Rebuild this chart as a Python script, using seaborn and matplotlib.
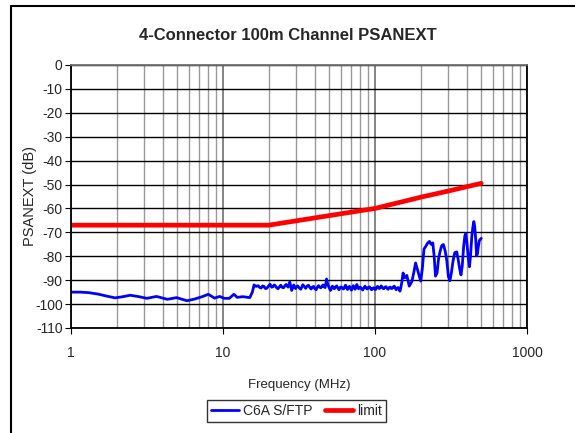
import matplotlib
matplotlib.use("Agg")
import matplotlib.pyplot as plt
import matplotlib.ticker as mticker
import pandas as pd
import seaborn as sns

# limit line
limit_freq = [1, 20, 50, 100, 200, 300, 500]
limit_db = [-67.0, -67.0, -63.0, -60.0, -55.3, -52.8, -49.5]

# measured C6A S/FTP channel PSANEXT
meas_freq = [
    1.0, 1.15, 1.3, 1.5, 1.7, 1.95, 2.2, 2.45, 2.8, 3.15, 3.65, 4.3, 4.95, 5.8,
    6.5, 7.3, 8.0, 8.8, 9.5, 10.2, 11.0, 11.8, 12.4, 13.5, 15.0, 15.6,
    16.0, 16.5, 17.0, 17.4, 17.8, 18.2, 18.6, 19.0, 19.4, 19.9, 20.4, 20.9,
    21.3, 21.7, 22.0, 22.5, 23.0, 23.5, 24.0, 24.5, 25.0, 25.5, 26.0, 26.8,
    27.5, 27.9, 28.3, 28.8, 29.2, 29.6, 30.0, 30.5, 31.0, 31.7, 32.5, 33.0,
    33.5, 34.2, 35.0, 35.7, 36.5, 37.2, 38.0, 38.7, 39.5, 40.2, 41.0, 41.7,
    42.5, 43.2, 44.0, 44.7, 45.5, 46.2, 47.0, 47.5, 48.0, 48.7, 49.5, 50.2,
    51.0, 51.7, 52.5, 53.2, 54.0, 55.0, 56.0, 57.0, 58.0, 59.0, 60.0, 61.0,
    62.0, 63.0, 64.0, 65.0, 66.0, 67.0, 68.0, 69.0, 70.0, 71.0, 72.0, 73.0,
    74.0, 75.0, 76.0, 77.0, 78.0, 79.0, 80.0, 81.5, 83.0, 84.5, 86.0, 87.5,
    89.0, 90.5, 92.0, 93.5, 95.0, 96.5, 98.0, 99.5, 101, 102.5, 104, 105.5,
    107, 108.5, 110, 112, 114, 116, 118, 120, 122, 124, 126, 128, 130, 132,
    134, 136, 138, 140, 142, 144, 146, 148, 150,
    153, 157, 162, 168, 175, 181, 185, 190, 196, 200, 205, 210,
    216, 222, 228, 234, 240, 245, 250, 256, 262, 268, 275, 282, 290, 297, 304,
    311, 318, 326, 335, 345, 352, 360, 368, 375, 383, 390, 396, 402, 410, 418,
    425, 433, 440, 447, 453, 460, 466, 472, 478, 486, 495, 500,
]
meas_db = [
    -95.0, -95.0, -95.2, -95.8, -96.6, -97.4, -96.9, -96.3, -96.9, -97.6, -96.8,
    -98.0, -97.3, -98.6, -97.9, -96.9, -95.9, -97.5, -96.8, -97.6, -97.6, -95.9,
    -97.2, -96.9, -97.3, -95.0,
    -92.0, -92.6, -92.3, -93.0, -93.3, -92.4, -92.6, -93.5, -93.4, -92.5,
    -91.7, -92.9, -92.8, -92.0, -92.2, -93.1, -93.6, -92.8, -92.1, -93.0,
    -93.2, -92.4, -91.8, -92.9, -90.7, -92.5, -94.3, -93.0, -92.0, -92.9,
    -93.5, -92.7, -92.4, -93.2, -93.8, -92.8, -91.9, -92.6, -93.4, -92.5,
    -92.1, -93.0, -93.7, -92.9, -92.6, -93.5, -94.0, -93.0, -92.3, -92.9,
    -93.2, -92.6, -92.0, -92.8, -93.1, -91.5, -89.5, -91.3, -92.6, -93.5,
    -94.3, -93.2, -92.5, -93.3, -93.6, -92.8, -92.4, -93.3, -94.0, -93.0,
    -92.8, -93.4, -93.7, -92.9, -92.1, -93.2, -93.9, -93.0, -92.6, -93.5,
    -94.2, -93.1, -92.3, -93.2, -93.8, -92.6, -91.8, -92.9, -93.6, -93.0,
    -92.9, -93.6, -94.1, -93.2, -92.5, -93.3, -93.7, -93.0, -92.8, -93.5,
    -94.0, -93.4, -93.2, -93.8, -93.9, -93.0, -92.6, -93.3, -93.5, -92.9,
    -92.4, -93.2, -93.6, -93.0, -92.7, -93.4, -93.8, -93.1, -92.9, -93.5,
    -93.4, -92.8, -92.5, -93.4, -94.0, -93.3, -93.1, -93.9, -94.6, -93.0,
    -91.0,
    -87.0, -89.0, -88.0, -92.5, -90.5, -86.0, -82.8,
    -85.5, -88.5, -90.4, -85.0, -77.0, -75.8, -74.5, -73.8, -75.0, -74.4, -80.0,
    -88.3, -87.0, -81.0, -78.0, -75.5, -75.1, -78.0, -82.0, -88.5, -90.2, -87.0,
    -82.0, -78.5, -78.2, -81.0, -85.0, -87.8, -84.0, -76.0, -71.5, -70.5, -74.0,
    -80.0, -84.4, -80.0, -72.0, -68.0, -65.5, -67.5, -73.0, -79.8, -79.0, -76.0,
    -73.5, -72.8, -72.5,
]

y_ticks = list(range(0, -111, -10))
x_ticks = [1, 10, 100, 1000]

df = pd.concat([
    pd.DataFrame({"freq": meas_freq, "db": meas_db, "series": "C6A S/FTP"}),
    pd.DataFrame({"freq": limit_freq, "db": limit_db, "series": "limit"}),
])

sns.set_theme(style="white")
plt.rcParams["font.family"] = ["Liberation Sans", "DejaVu Sans"]
plt.rcParams["axes.unicode_minus"] = False

fig = plt.figure(figsize=(5.75, 4.33), dpi=100)
ax = fig.add_axes([0.1235, 0.2425, 0.793, 0.6075])

sns.lineplot(data=df, x="freq", y="db", hue="series", size="series",
             palette={"C6A S/FTP": "#0000ff", "limit": "#ff0000"},
             sizes={"C6A S/FTP": 2.0, "limit": 3.4},
             estimator=None, sort=False, ax=ax, legend=False)

ax.set_xscale("log")
ax.set_xlim(1, 1000)
ax.set_ylim(-110, 0)
ax.set_yticks(y_ticks)
ax.set_xticks(x_ticks)
ax.xaxis.set_major_formatter(mticker.FuncFormatter(lambda v, p: f"{v:g}"))
ax.xaxis.set_minor_locator(mticker.LogLocator(base=10, subs=range(2, 10)))
ax.xaxis.set_minor_formatter(mticker.NullFormatter())

ax.grid(axis="y", which="major", color="black", linewidth=1.0)
ax.grid(axis="x", which="major", color="#707070", linewidth=1.2)
ax.grid(axis="x", which="minor", color="#9a9a9a", linewidth=1.0)
ax.set_axisbelow(True)

for side in ["left", "bottom", "right"]:
    ax.spines[side].set_color("black")
    ax.spines[side].set_linewidth(1.3)
ax.spines["top"].set_color("#707070")
ax.spines["top"].set_linewidth(1.3)

ax.tick_params(axis="both", which="major", direction="out", length=4,
               width=0.8, color="black", labelsize=10, pad=2,
               left=True, bottom=True)
ax.tick_params(axis="x", which="minor", bottom=False)
ax.tick_params(axis="x", pad=9)

ax.set_xlabel("Frequency (MHz)", fontsize=9.5, labelpad=14)
ax.set_ylabel("PSANEXT (dB)", fontsize=10.5)
ax.yaxis.set_label_coords(-0.075, 0.5)

fig.text(0.5, 0.918, "4-Connector 100m Channel PSANEXT", ha="center",
         va="center", fontsize=12, fontweight="bold")

handles = [
    plt.Line2D([], [], color="#0000ff", linewidth=2.0),
    plt.Line2D([], [], color="#ff0000", linewidth=3.4),
]
leg = fig.legend(handles, ["C6A S/FTP", "limit"], loc="center",
                 bbox_to_anchor=(0.516, 0.051), ncol=2, fontsize=10,
                 frameon=True, fancybox=False, edgecolor="black",
                 handlelength=2.0, handletextpad=0.3, columnspacing=0.9,
                 borderpad=0.3)
leg.get_frame().set_linewidth(1.0)

# outer chart border (top and left only are visible in the reference)
fig.add_artist(plt.Line2D([0.019, 1.0], [0.986, 0.986], color="black",
                          linewidth=1.5, transform=fig.transFigure))
fig.add_artist(plt.Line2D([0.019, 0.019], [0.0, 0.986], color="black",
                          linewidth=1.5, transform=fig.transFigure))

fig.savefig("out.png", dpi=100)
